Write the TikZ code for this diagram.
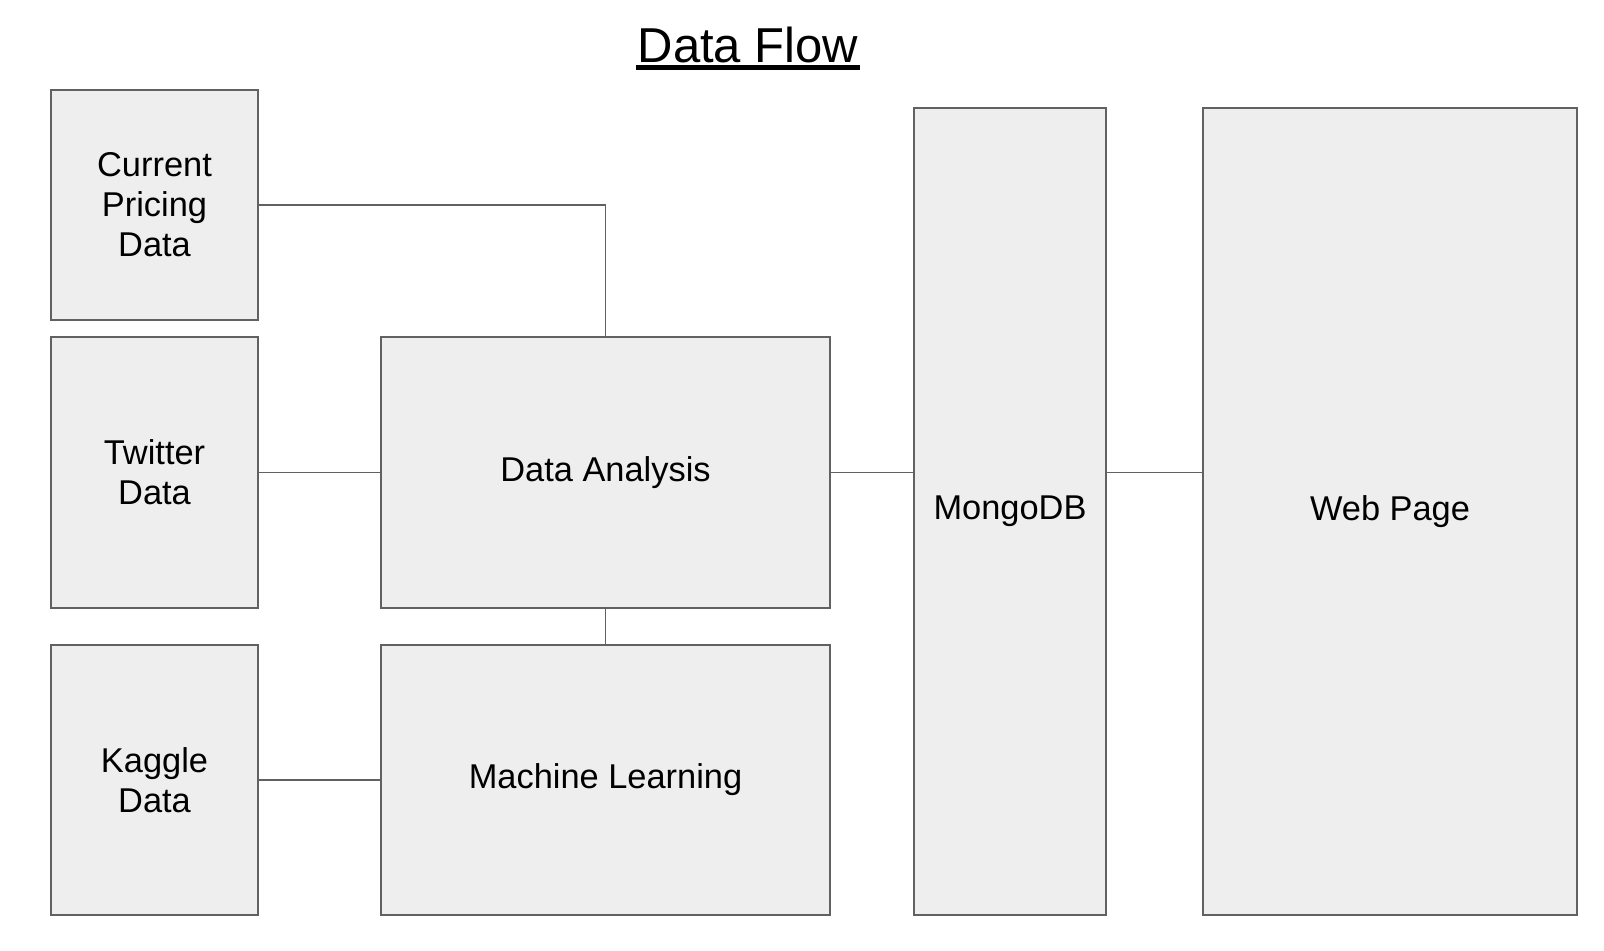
\documentclass[tikz,border=0pt]{standalone}
\usepackage{fontspec}
\setmainfont{Liberation Sans}
\definecolor{boxfill}{HTML}{EEEEEE}
\definecolor{boxline}{HTML}{616161}
\tikzset{
    flowbox/.style={draw=boxline, fill=boxfill, line width=1pt, align=center,
        inner sep=0pt, font=\fontsize{17.2}{20}\selectfont},
    link/.style={draw=boxline, line width=0.8pt}
}
\begin{document}
\begin{tikzpicture}[x=0.5pt, y=-0.5pt]
                \useasboundingbox (0, 0) rectangle (1604, 950);

                \node[inner sep=0pt, anchor=base, font=\fontsize{24.5}{28}\selectfont] (title) at (748, 62) {Data Flow};
                \draw[line width=2.5pt] (636, 67.5) -- (860, 67.5);

                \node[flowbox, minimum width=103.5pt, minimum height=115pt] (pricing) at (154.5, 205) {Current\\Pricing\\Data};
                \node[flowbox, minimum width=103.5pt, minimum height=135.5pt] (twitter) at (154.5, 472.5) {Twitter\\Data};
                \node[flowbox, minimum width=103.5pt, minimum height=135pt] (kaggle) at (154.5, 780) {Kaggle\\Data};

                \node[flowbox, minimum width=224.5pt, minimum height=135.5pt] (analysis) at (605.5, 472.5) {Data Analysis};
                \node[flowbox, minimum width=224.5pt, minimum height=135pt] (learning) at (605.5, 780) {Machine Learning};

                \node[flowbox, minimum width=96pt, minimum height=403.5pt] (mongo) at (1010, 511.5) {MongoDB};
                \node[flowbox, minimum width=187pt, minimum height=403.5pt] (web) at (1390, 511.5) {Web Page};

                \draw[link] (pricing.east) -| (analysis.north);
                \draw[link] (twitter.east) -- (analysis.west);
                \draw[link] (analysis.south) -- (learning.north);
                \draw[link] (kaggle.east) -- (learning.west);
                \draw[link] (analysis.east) -- (analysis.east -| mongo.west);
                \draw[link] (mongo.east |- analysis.east) -- (web.west |- analysis.east);

            \end{tikzpicture}
\end{document}
